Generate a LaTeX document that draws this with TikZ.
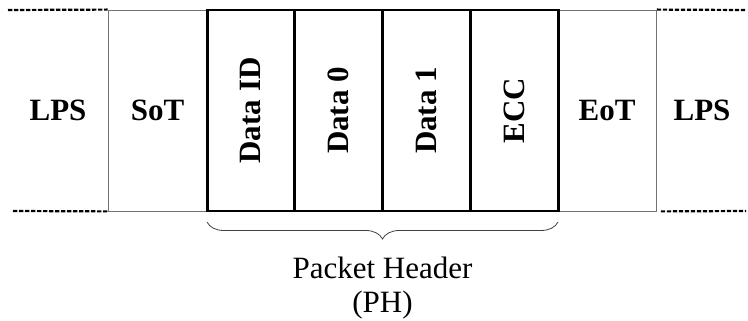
\documentclass[tikz,border=0pt]{standalone}
\usepackage{fontspec}
\setmainfont{Liberation Serif}
\usetikzlibrary{decorations.pathreplacing}
\tikzset{thinbox/.style={rectangle,draw=black!55,line width=0.8pt,minimum width=99pt,minimum height=201pt,inner sep=0pt},
  thickbox/.style={rectangle,draw=black,line width=2.8pt,minimum width=201pt,minimum height=87.75pt,inner sep=0pt,rotate=90},
  lane/.style={draw=black,line width=2.2pt,dash pattern=on 4.3pt off 1.7pt}}
\newcommand{\Fld}[1]{\textbf{#1}}

\begin{document}
\begin{tikzpicture}[x=1pt,y=1pt,font=\fontsize{31}{34}\selectfont]
\useasboundingbox (0,0) rectangle (748,321);
% \draw[help lines,step=50] (0,0) grid (748,321);
\node (lpsl) at (58,210.5) {\Fld{LPS}};
\node (sot) [thinbox] at (157.5,210.5) {\Fld{SoT}};
\node (eot) [thinbox] at (607,210.5) {\Fld{EoT}};
\node (lpsr) at (702,210.5) {\Fld{LPS}};
%
\node (did) [thickbox] at (251,210.5) {\Fld{Data ID}};
\node (d0) [thickbox] at (338.75,210.5) {\Fld{Data 0}};
\node (d1) [thickbox] at (426.5,210.5) {\Fld{Data 1}};
\node (ecc) [thickbox] at (514.25,210.5) {\Fld{ECC}};
%
\coordinate (tl) at (8,311);
\coordinate (bl) at (13,110);
\coordinate (tr) at (746,311);
\coordinate (br) at (746,110);
\draw[lane] (tl) -- (sot.north west);
\draw[lane] (bl) -- (sot.south west);
\draw[lane] (eot.north east) -- (tr);
\draw[lane] ([xshift=4pt]eot.south east) -- (br);
%
\coordinate (phl) at (207,99);
\coordinate (phr) at (558,99);
\draw[black!75,line width=0.8pt,decorate,decoration={brace,mirror,amplitude=17pt}] (phl) -- (phr);
\node (ph) [align=center] at (382.5,33) {Packet Header\\(PH)};
\end{tikzpicture}
\end{document}
